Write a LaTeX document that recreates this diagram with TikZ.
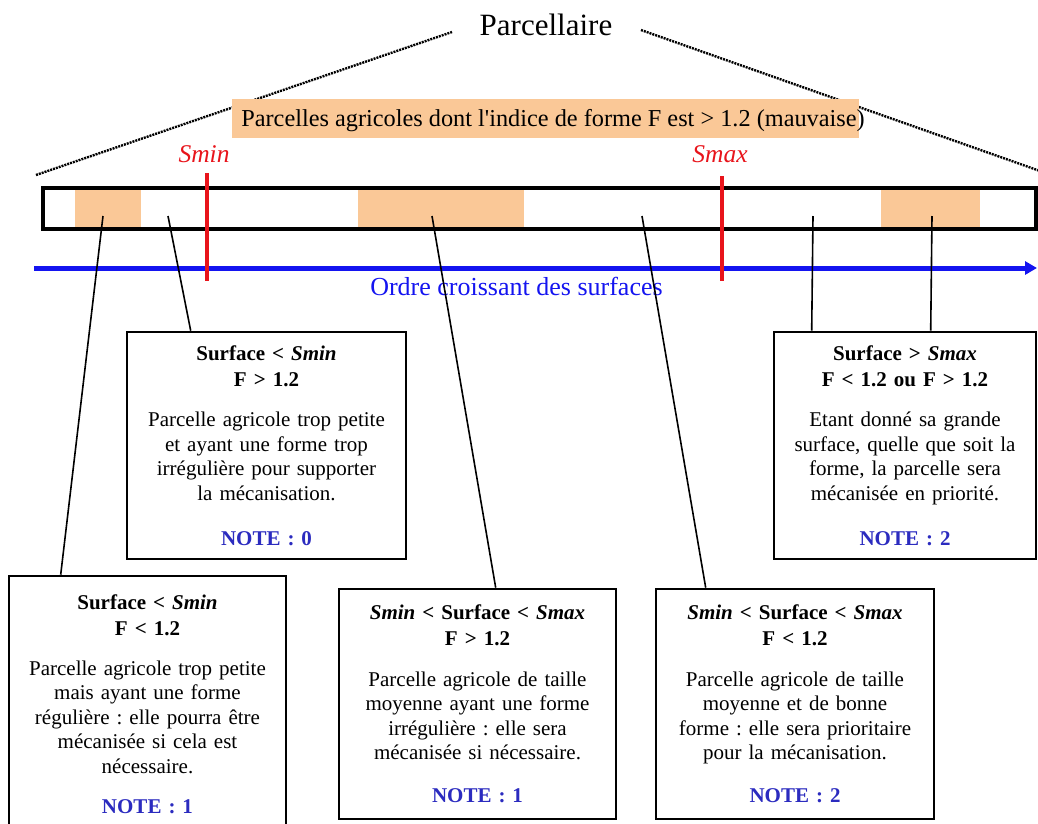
\documentclass[tikz,border=0pt]{standalone}
\usepackage{fontspec}
\setmainfont{Liberation Serif}
\usepackage{xcolor}
\definecolor{Peach}{HTML}{FAC897}
\definecolor{AxisBlue}{HTML}{1414F0}
\definecolor{NoteBlue}{HTML}{2B2BBF}
\definecolor{LimitRed}{HTML}{E8141B}
\usetikzlibrary{calc, arrows.meta, positioning}
\frenchspacing

\begin{document}
\begin{tikzpicture}[x=1pt, y=-1pt,
  box/.style={draw, line width=2.6pt, align=center, inner xsep=6pt, inner ysep=0pt,
    font=\fontsize{21}{24.5}\selectfont},
  link/.style={line width=1.6pt},
  limit/.style={LimitRed, line width=3.4pt},
  zoomline/.style={line width=2.4pt, dash pattern=on 2pt off 1pt},
  spot/.style={fill=Peach, draw=none}]
  \useasboundingbox (0,0) rectangle (1038,823);

  % title and zoom lines
  \node[font=\fontsize{31}{34}\selectfont] (title) at (546,25) {Parcellaire};
  \coordinate (zl) at (36,175);
  \coordinate (zlt) at (452,32);
  \coordinate (zrt) at (641,30);
  \coordinate (zr) at (1040,171);
  \draw[zoomline] (zl) -- (zlt);
  \draw[zoomline] (zrt) -- (zr);

  % banner
  \node[spot, minimum width=627pt, minimum height=39pt, inner sep=0pt] (banner) at (545.5,118.5) {};
  \node[font=\fontsize{24.3}{27}\selectfont] (bannertext) at (553,121)
    {Parcelles agricoles dont l\textquotesingle indice de forme F est > 1.2 (mauvaise)};

  % the strip of parcels
  \node[spot, minimum width=66pt, minimum height=38pt, inner sep=0pt] (p1) at (108,209) {};
  \node[spot, minimum width=166pt, minimum height=38pt, inner sep=0pt] (p2) at (441,209) {};
  \node[spot, minimum width=99pt, minimum height=38pt, inner sep=0pt] (p3) at (930.5,209) {};
  \draw[line width=3.4pt] (43,188) rectangle (1036,229);

  % axis
  \coordinate (a0) at (34,268);
  \coordinate (a1) at (1037,268);
  \draw[AxisBlue, line width=5pt, -{Triangle[length=12pt,width=13pt]}] (a0) -- (a1);
  \node[text=AxisBlue, font=\fontsize{26}{28}\selectfont] (axislabel) at (516.5,286) {Ordre croissant des surfaces};

  % limits
  \node[text=LimitRed, font=\fontsize{25.5}{28}\itshape] (smin) at (204,154) {Smin};
  \node[text=LimitRed, font=\fontsize{25.5}{28}\itshape] (smax) at (720,154) {Smax};
  \draw[limit] (207,173) -- (207,281);
  \draw[limit] (722,176) -- (722,281);

  % boxes
  \node[box, text width=262pt, minimum width=279pt, minimum height=227pt] (box1) at (266.5,445.5)
    {{\bfseries Surface < \textit{Smin}\\[1.5pt] F > 1.2}\\[15.5pt]
     Parcelle agricole trop petite\\ et ayant une forme trop\\ irrégulière pour supporter\\ la mécanisation.\\[20.5pt]
     \textcolor{NoteBlue}{\bfseries NOTE : 0}};
  \node[box, text width=248pt, minimum width=262pt, minimum height=227pt] (box5) at (905,445.5)
    {{\bfseries Surface > \textit{Smax}\\[1.5pt] F < 1.2 ou F > 1.2}\\[15.5pt]
     Etant donné sa grande\\ surface, quelle que soit la\\ forme, la parcelle sera\\ mécanisée en priorité.\\[20.5pt]
     \textcolor{NoteBlue}{\bfseries NOTE : 2}};
  \node[box, text width=262pt, minimum width=277pt, minimum height=256pt] (box4) at (147.5,704)
    {{\bfseries Surface < \textit{Smin}\\[1pt] F < 1.2}\\[15.5pt]
     Parcelle agricole trop petite\\ mais ayant une forme\\ régulière : elle pourra être\\ mécanisée si cela est\\ nécessaire.\\[15.5pt]
     \textcolor{NoteBlue}{\bfseries NOTE : 1}};
  \node[box, text width=262pt, minimum width=277pt, minimum height=230pt] (box2) at (477.5,704)
    {{\bfseries \textit{Smin} < Surface < \textit{Smax}\\[1pt] F > 1.2}\\[16.5pt]
     Parcelle agricole de taille\\ moyenne ayant une forme\\ irrégulière : elle sera\\ mécanisée si nécessaire.\\[18.5pt]
     \textcolor{NoteBlue}{\bfseries NOTE : 1}};
  \node[box, text width=262pt, minimum width=278pt, minimum height=230pt] (box3) at (795,704)
    {{\bfseries \textit{Smin} < Surface < \textit{Smax}\\[1pt] F < 1.2}\\[16.5pt]
     Parcelle agricole de taille\\ moyenne et de bonne\\ forme : elle sera prioritaire\\ pour la mécanisation.\\[18.5pt]
     \textcolor{NoteBlue}{\bfseries NOTE : 2}};

  % links from the strip to the boxes
  \coordinate (s1) at (103,216);
  \coordinate (s2) at (168,216);
  \coordinate (s3) at (432,216);
  \coordinate (s4) at (642,216);
  \coordinate (s5) at (813,216);
  \coordinate (s6) at (932,216);
  \draw[link] (s1) -- ([xshift=53pt]box4.north west);
  \draw[link] (s2) -- ([xshift=65pt]box1.north west);
  \draw[link] (s3) -- ([xshift=158pt]box2.north west);
  \draw[link] (s4) -- ([xshift=51pt]box3.north west);
  \draw[link] (s5) -- ([xshift=39pt]box5.north west);
  \draw[link] (s6) -- ([xshift=158pt]box5.north west);
\end{tikzpicture}
\end{document}
